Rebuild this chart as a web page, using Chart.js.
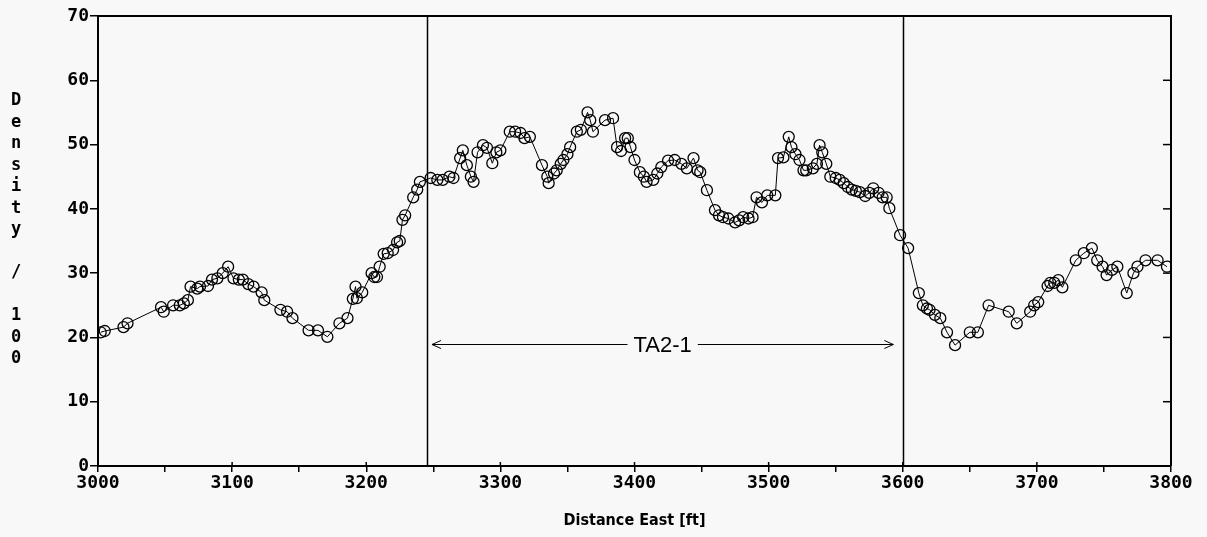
<!DOCTYPE html>
<html>
<head>
<meta charset="utf-8">
<script src="https://cdn.jsdelivr.net/npm/chart.js@4/dist/chart.umd.min.js"></script>
<style>
	html, body { margin: 0; padding: 0; background: #f8f8f8; }
	#wrap { width: 1207px; height: 537px; }
</style>
</head>
<body>
<div id="wrap"><canvas id="chartDensity" width="1207" height="537"></canvas></div>
<script>
// Distance East [ft]
var distance = [
	3002, 3005, 3019, 3022, 3047, 3049, 3056, 3061, 3064, 3067, 3069, 3074, 3076, 3082, 3085, 3089, 3093, 3097,
	3101, 3105, 3108, 3112, 3116, 3122, 3124, 3136, 3141, 3145, 3157, 3164, 3171, 3180, 3186, 3190, 3192, 3193, 3197,
	3204, 3206, 3208, 3210, 3213, 3216, 3220, 3223, 3225, 3227, 3229, 3235, 3238, 3240, 3248, 3253, 3257, 3262, 3265,
	3270, 3272, 3275, 3278, 3280, 3283, 3287, 3290, 3294, 3297, 3300, 3307, 3311, 3315, 3318, 3322, 3331, 3335, 3336,
	3340, 3342, 3345, 3347, 3350, 3352, 3357, 3360, 3365, 3367, 3369, 3378, 3384, 3387, 3390, 3393, 3395, 3397,
	3400, 3404, 3407, 3409, 3414, 3417, 3420, 3425, 3430, 3435, 3439, 3444, 3447, 3449, 3454, 3460, 3463, 3466,
	3470, 3475, 3478, 3481, 3485, 3488, 3491, 3495, 3499, 3505, 3507, 3511, 3515, 3517, 3520, 3523, 3526, 3528,
	3533, 3536, 3538, 3540, 3543, 3546, 3550, 3553, 3556, 3559, 3562, 3565, 3568, 3572, 3575, 3578, 3582, 3585,
	3588, 3590, 3598, 3604, 3612, 3615, 3618, 3620, 3624, 3628, 3633, 3639, 3650, 3656, 3664, 3679, 3685, 3695,
	3698, 3701, 3708, 3710, 3713, 3716, 3719, 3729, 3735, 3741, 3745, 3749, 3752, 3756, 3760, 3767, 3772, 3775,
	3781, 3790, 3797
];
// Density / 100
var density = [
	20.8, 21, 21.6, 22.2, 24.7, 24, 25, 25, 25.3, 25.8, 27.9, 27.6, 27.9, 28, 29, 29.2, 30, 31,
	29.2, 29, 29, 28.3, 27.9, 27, 25.8, 24.3, 24, 23, 21.1, 21.1, 20.1, 22.2, 23, 26, 27.9, 26.1, 27,
	30, 29.4, 29.4, 31, 33, 33.1, 33.6, 34.8, 35, 38.3, 39, 41.8, 43, 44.2, 44.8, 44.5, 44.5, 45, 44.8,
	47.9, 49.1, 46.8, 45, 44.2, 48.8, 49.9, 49.5, 47.1, 48.8, 49.1, 52, 52, 51.8, 51, 51.2, 46.8, 45, 44,
	45.5, 46, 47, 47.6, 48.5, 49.6, 52, 52.3, 55, 53.8, 52, 53.8, 54.1, 49.6, 49, 51, 51, 49.6,
	47.6, 45.7, 45, 44.2, 44.5, 45.5, 46.5, 47.5, 47.6, 47, 46.3, 47.9, 46, 45.7, 42.9, 39.8, 39, 38.7,
	38.5, 37.9, 38.2, 38.7, 38.5, 38.7, 41.8, 41, 42.1, 42.1, 47.9, 48, 51.2, 49.6, 48.5, 47.6, 46, 46,
	46.3, 47, 49.9, 48.8, 47, 45, 44.8, 44.5, 44, 43.4, 43, 42.8, 42.6, 42, 42.5, 43.2, 42.5, 41.8,
	41.8, 40.1, 35.9, 33.9, 26.9, 25, 24.5, 24.3, 23.5, 23, 20.8, 18.8, 20.8, 20.8, 25, 24, 22.2, 24,
	25, 25.5, 28, 28.5, 28.5, 28.9, 27.8, 32, 33.1, 33.9, 32, 31, 29.7, 30.5, 31, 26.9, 30, 31,
	32, 32, 31
];

// Axes and annotation
var xRange = [3000, 3800];
var yRange = [0, 70];
var zoneBounds = [3245, 3600];
var zoneArrow = [3249, 3593];
var zoneArrowY = 19;
var zoneLabel = "TA2-1";
var yTitle = "Density / 100";
var xTitle = "Distance East [ft]";

var tickFont = { family: "'DejaVu Sans Mono'", size: 18, weight: 'bold' };

// Cadre, lignes verticales, fleche et titre vertical
var decorations = {
	id: 'decorations',
	afterDraw: function(chart) {
		var ctx = chart.ctx;
		var area = chart.chartArea;
		var sx = chart.scales.x;
		var sy = chart.scales.y;
		ctx.save();
		ctx.strokeStyle = '#000';
		ctx.fillStyle = '#000';

		// top and right frame
		ctx.lineWidth = 2;
		ctx.beginPath();
		ctx.moveTo(area.left, area.top);
		ctx.lineTo(area.right, area.top);
		ctx.lineTo(area.right, area.bottom);
		ctx.stroke();

		// inward ticks on the right side
		ctx.lineWidth = 1.5;
		sy.ticks.forEach(function(t) {
			var py = sy.getPixelForValue(t.value);
			ctx.beginPath();
			ctx.moveTo(area.right - 8, py);
			ctx.lineTo(area.right, py);
			ctx.stroke();
		});

		// major x ticks also cross above the axis
		sx.ticks.forEach(function(t) {
			if (t.value % 100 !== 0) return;
			var px = sx.getPixelForValue(t.value);
			ctx.beginPath();
			ctx.moveTo(px, area.bottom - 4);
			ctx.lineTo(px, area.bottom);
			ctx.stroke();
		});

		// zone bounds
		ctx.lineWidth = 1.5;
		zoneBounds.forEach(function(v) {
			var px = Math.round(sx.getPixelForValue(v)) + 0.5;
			ctx.beginPath();
			ctx.moveTo(px, area.top);
			ctx.lineTo(px, area.bottom);
			ctx.stroke();
		});

		// double arrow with label
		var ay = Math.round(sy.getPixelForValue(zoneArrowY)) + 0.5;
		var a0 = sx.getPixelForValue(zoneArrow[0]);
		var a1 = sx.getPixelForValue(zoneArrow[1]);
		ctx.font = "22px 'Liberation Sans'";
		ctx.textAlign = 'center';
		ctx.textBaseline = 'middle';
		var mid = (a0 + a1) / 2;
		var tw = ctx.measureText(zoneLabel).width;
		ctx.lineWidth = 1;
		ctx.beginPath();
		ctx.moveTo(a0, ay);
		ctx.lineTo(mid - tw / 2 - 6, ay);
		ctx.moveTo(mid + tw / 2 + 6, ay);
		ctx.lineTo(a1, ay);
		ctx.moveTo(a0 + 9, ay - 4);
		ctx.lineTo(a0, ay);
		ctx.lineTo(a0 + 9, ay + 4);
		ctx.moveTo(a1 - 9, ay - 4);
		ctx.lineTo(a1, ay);
		ctx.lineTo(a1 - 9, ay + 4);
		ctx.stroke();
		ctx.fillText(zoneLabel, mid, ay + 1);

		// stacked y title
		ctx.font = "bold 17px 'DejaVu Sans Mono'";
		var chars = yTitle.split('');
		for (var i = 0; i < chars.length; i++) {
			ctx.fillText(chars[i], 16, 101 + i * 21.5);
		}
		ctx.restore();
	}
};

var ctxDensity = document.getElementById("chartDensity");
var chartDensity = new Chart(ctxDensity, {
	type: 'scatter',
	data: {
		datasets: [{
			label: 'Density',
			data: distance.map(function(d, i) { return { x: d, y: density[i] }; }),
			showLine: true,
			borderColor: '#000',
			borderWidth: 1,
			pointRadius: 5.5,
			pointHoverRadius: 5.5,
			pointBorderWidth: 1.3,
			pointBorderColor: '#000',
			pointBackgroundColor: 'rgba(0,0,0,0)'
		}]
	},
	options: {
		responsive: false,
		animation: false,
		layout: { padding: { top: 16, right: 36, left: 0, bottom: 0 } },
		plugins: { legend: { display: false }, tooltip: { enabled: false } },
		scales: {
			x: {
				type: 'linear',
				min: xRange[0],
				max: xRange[1],
				afterFit: function(scale) { scale.height = 71; },
				border: { display: true, color: '#000', width: 2 },
				grid: { drawOnChartArea: false, drawTicks: true, tickLength: 6, color: '#000', lineWidth: 1.5 },
				ticks: {
					stepSize: 50,
					autoSkip: false,
					maxRotation: 0,
					padding: 1,
					color: '#000',
					font: tickFont,
					callback: function(v) { return v % 100 === 0 ? v : ''; }
				},
				title: {
					display: true,
					text: xTitle,
					color: '#000',
					padding: { top: 4, bottom: 7 },
					font: { family: "'DejaVu Sans Condensed'", size: 16, weight: 'bold' }
				}
			},
			y: {
				min: yRange[0],
				max: yRange[1],
				afterFit: function(scale) { scale.width = 98; },
				border: { display: true, color: '#000', width: 2 },
				grid: { drawOnChartArea: false, drawTicks: true, tickLength: 8, color: '#000', lineWidth: 1.5 },
				ticks: { stepSize: 10, padding: 1, color: '#000', font: tickFont }
			}
		}
	},
	plugins: [decorations]
});
</script>
</body>
</html>
